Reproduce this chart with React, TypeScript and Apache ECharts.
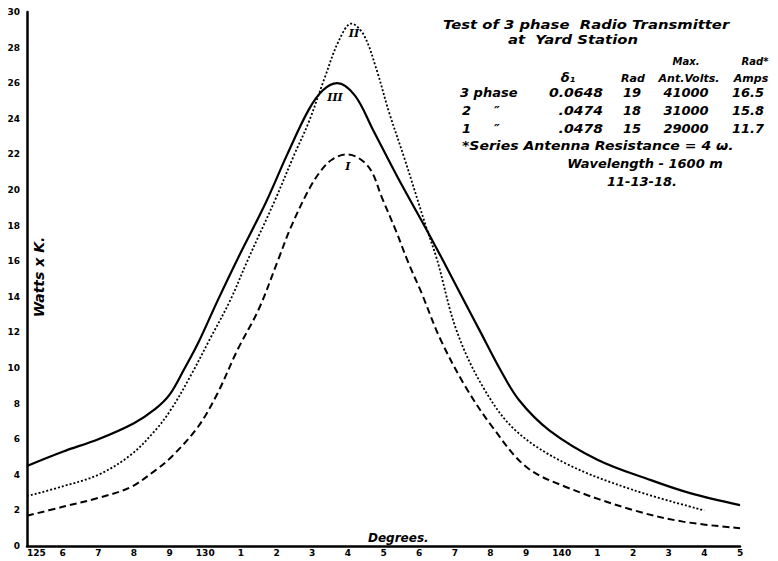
import React, { useEffect, useRef } from "react";
import * as echarts from "echarts";

// X tick labels (degrees 125..145, abbreviated as on the original sheet)
const xTickLabels = ["125","6","7","8","9","130","1","2","3","4","5","6","7","8","9","140","1","2","3","4","5"];

// Curve I (dashed) — "1" row
const curveI: [number, number][] = [
  [125, 1.7], [126, 2.2], [127, 2.7], [127.9, 3.3], [128.6, 4.25], [129.05, 5.0],
  [129.8, 6.7], [130.35, 8.6], [130.9, 11.0], [131.5, 13.3], [132.05, 16.1],
  [132.4, 17.9], [132.9, 20.0], [133.25, 21.1], [133.55, 21.7], [133.95, 22.0],
  [134.3, 21.8], [134.65, 21.1], [134.95, 19.6], [135.35, 17.7], [135.7, 15.9],
  [136.05, 14.3], [136.6, 11.6], [137.3, 8.95], [138.05, 6.7], [139.0, 4.45],
  [140.1, 3.33], [142.0, 2.02], [143.4, 1.37], [145, 1.0],
];

// Curve II (dotted) — "2" row
const curveII: [number, number][] = [
  [125, 2.8], [126, 3.35], [127, 4.0], [127.9, 5.1], [128.6, 6.5], [129.05, 7.7],
  [129.6, 9.6], [130.15, 11.7], [130.7, 13.8], [131.2, 16.1], [131.95, 19.4],
  [132.5, 22.0], [132.9, 23.8], [133.35, 26.3], [133.75, 28.4], [134.1, 29.35],
  [134.45, 28.7], [134.8, 26.8], [135.15, 24.4], [135.6, 21.7], [136.2, 17.9],
  [136.5, 16.1], [137.05, 12.1], [137.8, 8.9], [138.7, 6.5], [140.1, 4.65],
  [142.0, 3.15], [144.0, 2.0],
];

// Curve III (solid) — "3 phase" row
const curveIII: [number, number][] = [
  [125, 4.5], [126, 5.3], [127, 6.0], [128, 6.9], [128.6, 7.7], [129, 8.5],
  [129.4, 9.9], [129.8, 11.4], [130.35, 13.8], [130.9, 16.1], [131.7, 19.3],
  [132.3, 22.0], [132.9, 24.5], [133.3, 25.6], [133.7, 26.0], [134.2, 25.3],
  [134.7, 23.4], [135.4, 20.7], [136.2, 17.8], [136.6, 16.3], [137.2, 14.0],
  [137.7, 12.1], [138.25, 10.0], [138.8, 8.2], [139.65, 6.5], [141.0, 4.85],
  [142.5, 3.7], [143.6, 2.97], [145, 2.3],
];

// Curve label anchors (data coordinates)
const labelI: [number, number] = [134.0, 21.3];
const labelII: [number, number] = [134.17, 28.8];
const labelIII: [number, number] = [133.64, 25.2];

// Table text
const titleLines = ["Test of 3 phase  Radio Transmitter", "at  Yard Station"];
const tableHead = ["\u03b4\u2081", "Rad", "Ant.Volts.", "Amps"];
const rowNames = ["3 phase", "2", "1"];
const rowDelta = ["0.0648", ".0474", ".0478"];
const rowRad = ["19", "18", "15"];
const rowVolts = ["41000", "31000", "29000"];
const rowAmps = ["16.5", "15.8", "11.7"];
const footLines = ["*Series Antenna Resistance = 4 \u03c9.", "Wavelength - 1600 m", "11-13-18."];

const HAND = '"DejaVu Sans"';

function txt(text: string, x: number, y: number, size: number, align: string = "left", extra: any = {}) {
  return {
    type: "text",
    x,
    y,
    silent: true,
    ...extra,
    style: {
      text,
      fill: "#000",
      fontFamily: HAND,
      fontWeight: "bold",
      fontStyle: "italic",
      fontSize: size,
      textAlign: align,
      textVerticalAlign: "middle",
      ...(extra.style || {}),
    },
  };
}

export default function App() {
  const ref = useRef<HTMLDivElement>(null);
  useEffect(() => {
    if (!ref.current) return;
    const chart = echarts.init(ref.current, undefined, { renderer: "svg" });

    const rowsY = [92, 110, 128];
    const graphic: any[] = [
      txt(titleLines[0], 443, 24, 13, "left", { scaleX: 1.14 }),
      txt(titleLines[1], 508, 39, 13, "left", { scaleX: 1.14 }),
      txt("Max.", 686, 61, 10, "center"),
      txt("Rad*", 755, 61, 10, "center"),
      txt(tableHead[0], 568, 77, 13, "center"),
      txt(tableHead[1], 633, 78, 11, "center"),
      txt(tableHead[2], 689, 78, 11, "center"),
      txt(tableHead[3], 751, 78, 11, "center"),
      txt(footLines[0], 462, 145, 13, "left", { scaleX: 1.08 }),
      txt(footLines[1], 645, 163, 13, "center"),
      txt(footLines[2], 642, 181, 13, "center"),
      txt("Degrees.", 368, 538, 12),
      txt("Watts x K.", 39, 277, 14, "center", { rotation: Math.PI / 2 }),
    ];
    rowNames.forEach((n, i) => {
      graphic.push(txt(n, i === 0 ? 460 : 462, rowsY[i], 13));
      if (i > 0) graphic.push(txt("\u2033", 497, rowsY[i], 13, "center"));
      graphic.push(txt(rowDelta[i], 603, rowsY[i], 13, "right", { scaleX: 1.08 }));
      graphic.push(txt(rowRad[i], 632, rowsY[i], 13, "center"));
      graphic.push(txt(rowVolts[i], 686, rowsY[i], 13, "center"));
      graphic.push(txt(rowAmps[i], 748, rowsY[i], 13, "center"));
    });

    const mp = (coord: [number, number], name: string) => ({
      symbol: "circle",
      symbolSize: 0,
      silent: true,
      label: {
        show: true,
        position: "inside",
        formatter: name,
        color: "#000",
        fontFamily: '"DejaVu Serif"',
        fontWeight: "bold",
        fontStyle: "italic",
        fontSize: 11,
      },
      data: [{ coord, value: name }],
    });

    chart.setOption({
      animation: false,
      backgroundColor: "#fff",
      grid: { left: 27, right: 38, top: 12, bottom: 15 },
      xAxis: {
        type: "value",
        min: 125,
        max: 145,
        interval: 1,
        axisLine: { show: true, lineStyle: { color: "#000", width: 2.5 } },
        axisTick: { show: false },
        splitLine: { show: false },
        axisLabel: {
          margin: 2,
          color: "#000",
          fontSize: 9,
          fontWeight: "bold",
          fontFamily: HAND,
          alignMinLabel: "left",
          formatter: (v: number) => xTickLabels[Math.round(v - 125)] ?? "",
        },
      },
      yAxis: {
        type: "value",
        min: 0,
        max: 30,
        interval: 2,
        axisLine: { show: true, lineStyle: { color: "#000", width: 2.5 } },
        axisTick: { show: false },
        splitLine: { show: false },
        axisLabel: {
          margin: 7,
          color: "#000",
          fontSize: 9,
          fontWeight: "bold",
          fontFamily: HAND,
        },
      },
      series: [
        {
          name: "III",
          type: "line",
          data: curveIII,
          smooth: 0.35,
          symbol: "none",
          lineStyle: { color: "#000", width: 2.2, type: "solid" },
          markPoint: mp(labelIII, "III"),
        },
        {
          name: "II",
          type: "line",
          data: curveII,
          smooth: 0.35,
          symbol: "none",
          lineStyle: { color: "#000", width: 1.8, type: [2, 2] },
          markPoint: mp(labelII, "II"),
        },
        {
          name: "I",
          type: "line",
          data: curveI,
          smooth: 0.35,
          symbol: "none",
          lineStyle: { color: "#000", width: 2, type: [7, 4] },
          markPoint: mp(labelI, "I"),
        },
      ],
      graphic,
    });
    return () => chart.dispose();
  }, []);
  return (
    <div
      ref={ref}
      style={{ position: "fixed", left: 0, top: 0, width: 778, height: 561, background: "#fff" }}
    />
  );
}
